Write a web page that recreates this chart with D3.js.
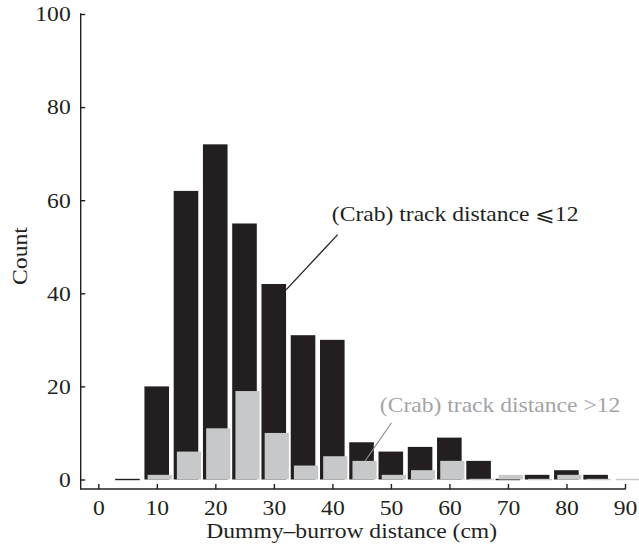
<!DOCTYPE html>
<html>
<head>
<meta charset="utf-8">
<script src="https://cdn.jsdelivr.net/npm/d3@7"></script>
<style>
  body { margin: 0; background: #fff; }
  text { font-family: "Liberation Serif", "Times New Roman", serif; fill: #231f20; }
</style>
</head>
<body>
<svg id="chart" width="639" height="552"></svg>
<script>
// bin centres (cm)
var bins = [5, 10, 15, 20, 25, 30, 35, 40, 45, 50, 55, 60, 65, 70, 75, 80, 85, 90];
// counts, track distance <= 12 (null = no bar)
var countsNear = [0, 20, 62, 72, 55, 42, 31, 30, 8, 6, 7, 9, 4, 0, 1, 2, 1, null];
// counts, track distance > 12
var countsFar = [null, 1, 6, 11, 19, 10, 3, 5, 4, 1, 2, 4, 0, 1, 0, 1, 0, 0];
var xTicks = [0, 10, 20, 30, 40, 50, 60, 70, 80, 90];
var yTicks = [0, 20, 40, 60, 80, 100];

var svg = d3.select("#chart");
var ink = "#231f20", grey = "#c7c8ca", greyText = "#a3a5a8";
var stretch = 1.18;

var x = d3.scaleLinear().domain([0, 90]).range([98.3, 625]);
var y = d3.scaleLinear().domain([0, 100]).range([479.5, 14]);
var axisY = 489, axisX = 80.7;

function barH(v) { return Math.max(y(0) - y(v), 1.4); }

// black bars
svg.selectAll(".near")
    .data(bins.map(function(b, i) { return {b: b, v: countsNear[i]}; }).filter(function(d) { return d.v !== null; }))
    .enter().append("rect")
    .attr("class", "near")
    .attr("x", function(d) { return x(d.b) - 12.4; })
    .attr("width", 24.6)
    .attr("y", function(d) { return y(0) - barH(d.v) + (d.v === 0 ? 0.7 : 0); })
    .attr("height", function(d) { return barH(d.v); })
    .style("fill", ink);

// grey bars, drawn on top and shifted right
svg.selectAll(".far")
    .data(bins.map(function(b, i) { return {b: b, v: countsFar[i]}; }).filter(function(d) { return d.v !== null; }))
    .enter().append("rect")
    .attr("class", "far")
    .attr("x", function(d) { return x(d.b) - 9.2; })
    .attr("width", 24.2)
    .attr("y", function(d) { return y(0) - barH(d.v) + (d.v === 0 ? 0.7 : 0); })
    .attr("height", function(d) { return barH(d.v); })
    .style("fill", grey);

// axes
var xAxis = d3.axisBottom(x).tickValues(xTicks).tickSizeInner(-5).tickSizeOuter(0).tickPadding(12);
var yAxis = d3.axisLeft(y).tickValues(yTicks).tickSizeInner(-4.5).tickSizeOuter(0).tickPadding(10);

var gx = svg.append("g")
    .attr("transform", "translate(0," + axisY + ")")
    .call(xAxis);
gx.select(".domain").remove();

var gy = svg.append("g")
    .attr("transform", "translate(" + axisX + ",0)")
    .call(yAxis);
gy.select(".domain").remove();

svg.selectAll(".tick line").style("stroke", ink).style("stroke-width", 1.4);
svg.selectAll(".tick text")
    .style("font-size", "20px")
    .style("font-family", "Liberation Serif")
    .style("fill", ink);
gx.selectAll(".tick text").attr("transform", "scale(" + stretch + ",1)");
gy.selectAll(".tick text").attr("x", -10 / stretch).attr("dy", "0.34em").attr("transform", "scale(" + stretch + ",1)");

svg.append("line")
    .attr("x1", axisX).attr("x2", axisX)
    .attr("y1", y(100) - 0.7).attr("y2", axisY)
    .style("stroke", ink).style("stroke-width", 1.4);
svg.append("line")
    .attr("x1", axisX - 0.7).attr("x2", x(90) + 0.7)
    .attr("y1", axisY).attr("y2", axisY)
    .style("stroke", ink).style("stroke-width", 1.4);

// axis titles
svg.append("text")
    .attr("transform", "translate(" + ((x(0) + x(90)) / 2 - 10) + ",538) scale(" + stretch + ",1)")
    .style("text-anchor", "middle")
    .style("font-size", "20px")
    .text("Dummy\u2013burrow distance (cm)");

svg.append("text")
    .attr("transform", "translate(27," + y(48) + ") rotate(-90) scale(" + stretch + ",1)")
    .style("text-anchor", "middle")
    .style("font-size", "20px")
    .text("Count");

// annotations
svg.append("line")
    .attr("x1", x(30) + 12.4).attr("y1", y(40.8))
    .attr("x2", x(40.9)).attr("y2", y(52.6))
    .style("stroke", ink).style("stroke-width", 1.3);
svg.append("text")
    .attr("transform", "translate(" + x(39.9) + "," + y(55.5) + ") scale(" + stretch + ",1)")
    .style("font-size", "20px")
    .text("(Crab) track distance \u2A7D12");

svg.append("line")
    .attr("x1", x(45.6)).attr("y1", y(4))
    .attr("x2", x(50.1)).attr("y2", y(12.2))
    .style("stroke", "#8a8c8e").style("stroke-width", 1.1);
svg.append("text")
    .attr("transform", "translate(" + x(48.1) + "," + y(14.6) + ") scale(" + stretch + ",1)")
    .style("font-size", "20px")
    .style("fill", greyText)
    .text("(Crab) track distance >12");
</script>
</body>
</html>
